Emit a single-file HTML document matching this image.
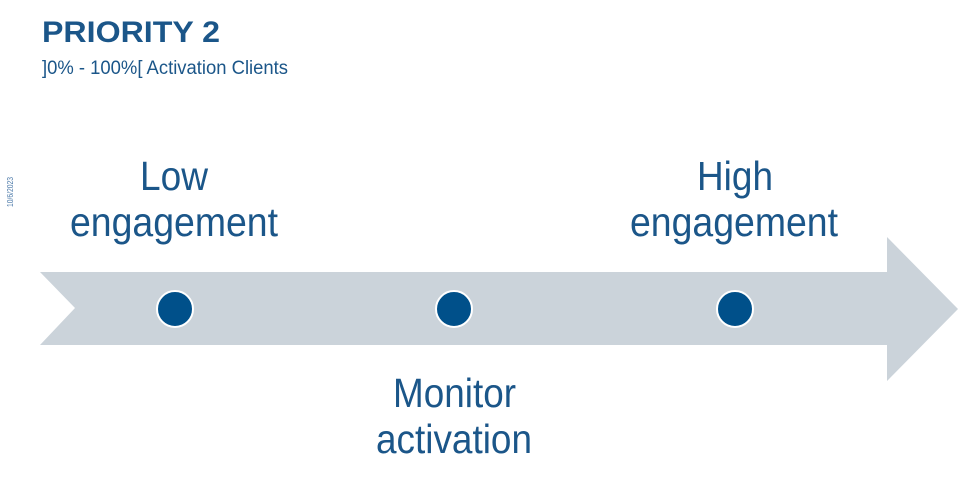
<!DOCTYPE html>
<html><head><meta charset="utf-8"><style>
html,body{margin:0;padding:0;background:#fff;width:960px;height:491px;overflow:hidden}
</style></head><body>
<svg width="960" height="491" viewBox="0 0 960 491" xmlns="http://www.w3.org/2000/svg" font-family="Liberation Sans, sans-serif">
<text x="42" y="42" font-size="30" font-weight="bold" fill="#1b5689" textLength="178" lengthAdjust="spacingAndGlyphs">PRIORITY 2</text>
<text x="42" y="74" font-size="19" fill="#1b5689" textLength="246" lengthAdjust="spacingAndGlyphs">]0% - 100%[ Activation Clients</text>
<text transform="translate(13,207) rotate(-90)" font-size="8" fill="#4a78a8" textLength="30" lengthAdjust="spacingAndGlyphs">10/6/2023</text>
<polygon points="40,272 887,272 887,237 958,309 887,381 887,345 40,345 75,308" fill="#cbd3da"/>
<g fill="#00508a" stroke="#fff" stroke-width="2">
<circle cx="175" cy="309" r="18"/>
<circle cx="454" cy="309" r="18"/>
<circle cx="735" cy="309" r="18"/>
</g>
<g font-size="41" fill="#1b5689">
<text x="140" y="190" textLength="68" lengthAdjust="spacingAndGlyphs">Low</text>
<text x="70" y="236" textLength="208" lengthAdjust="spacingAndGlyphs">engagement</text>
<text x="697" y="190" textLength="76" lengthAdjust="spacingAndGlyphs">High</text>
<text x="630" y="236" textLength="208" lengthAdjust="spacingAndGlyphs">engagement</text>
<text x="393" y="407" textLength="123" lengthAdjust="spacingAndGlyphs">Monitor</text>
<text x="376" y="453" textLength="156" lengthAdjust="spacingAndGlyphs">activation</text>
</g>
</svg>
</body></html>
